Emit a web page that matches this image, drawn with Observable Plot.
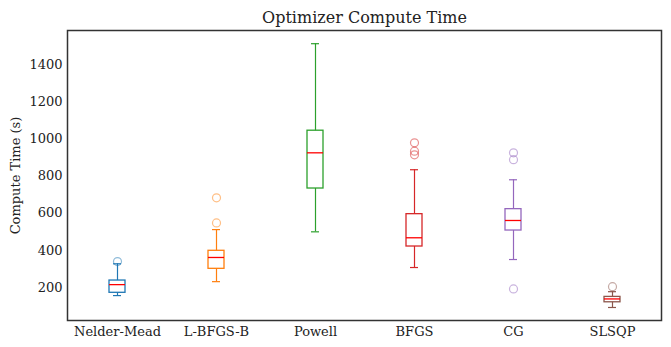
<!DOCTYPE html>
<html><head><meta charset="utf-8">
<script src="https://cdn.jsdelivr.net/npm/d3@7"></script>
<script src="https://cdn.jsdelivr.net/npm/@observablehq/plot@0.6"></script>
<style>body{margin:0;background:#fff}</style>
</head><body><div id="chart"></div>
<script>
const methods = ["Nelder-Mead","L-BFGS-B","Powell","BFGS","CG","SLSQP"];
const colors = ["#1f77b4","#ff7f0e","#2ca02c","#d62728","#9467bd","#8c564b"];
const whiskerLow = [157, 232, 500, 308, 351, 93];
const q1 = [172, 301, 733, 421, 507, 121];
const median = [216, 362, 925, 468, 561, 139];
const q3 = [238, 398, 1044, 595, 622, 150];
const whiskerHigh = [328, 512, 1512, 834, 780, 178];
const outliers = [
  [340],
  [548, 683],
  [],
  [979, 934, 914],
  [925, 888, 193],
  [205]
];
const yTicks = [200, 400, 600, 800, 1000, 1200, 1400];

const boxes = methods.map((m, i) => ({m, c: colors[i], lo: whiskerLow[i], q1: q1[i], med: median[i], q3: q3[i], hi: whiskerHigh[i]}));
const pts = methods.flatMap((m, i) => outliers[i].map(v => ({m, c: colors[i], v})));

const chart = Plot.plot({
  width: 671, height: 347,
  marginLeft: 67, marginRight: 10, marginTop: 30, marginBottom: 27,
  style: {fontFamily: "DejaVu Serif", fontSize: "13px", color: "#222", background: "#fff"},
  x: {domain: methods, paddingInner: 0.84, paddingOuter: 0.42, label: null, tickSize: 0, tickPadding: 6},
  y: {domain: [23, 1583], ticks: yTicks, tickFormat: d => String(d), label: "Compute Time (s)", labelAnchor: "center", labelArrow: "none", labelOffset: 57, tickSize: 0, tickPadding: 5},
  marks: [
    Plot.ruleX(boxes, {x: "m", y1: "lo", y2: "q1", stroke: "c", strokeWidth: 1.2}),
    Plot.ruleX(boxes, {x: "m", y1: "q3", y2: "hi", stroke: "c", strokeWidth: 1.2}),
    Plot.tickY(boxes, {x: "m", y: "lo", stroke: "c", strokeWidth: 1.2, inset: 4}),
    Plot.tickY(boxes, {x: "m", y: "hi", stroke: "c", strokeWidth: 1.2, inset: 4}),
    Plot.barY(boxes, {x: "m", y1: "q1", y2: "q3", fill: "none", stroke: "c", strokeWidth: 1.3}),
    Plot.tickY(boxes, {x: "m", y: "med", stroke: "#ff0000", strokeWidth: 1.3}),
    Plot.dot(pts, {x: "m", y: "v", r: 4, stroke: "c", strokeOpacity: 0.5, fill: "none", strokeWidth: 1.2}),
    Plot.frame({stroke: "#333", strokeWidth: 1.5}),
    Plot.text(["Optimizer Compute Time"], {frameAnchor: "top", lineAnchor: "bottom", dy: -8, fontSize: 16, fill: "#222"})
  ]
});
document.getElementById("chart").append(chart);
</script>
</body></html>
